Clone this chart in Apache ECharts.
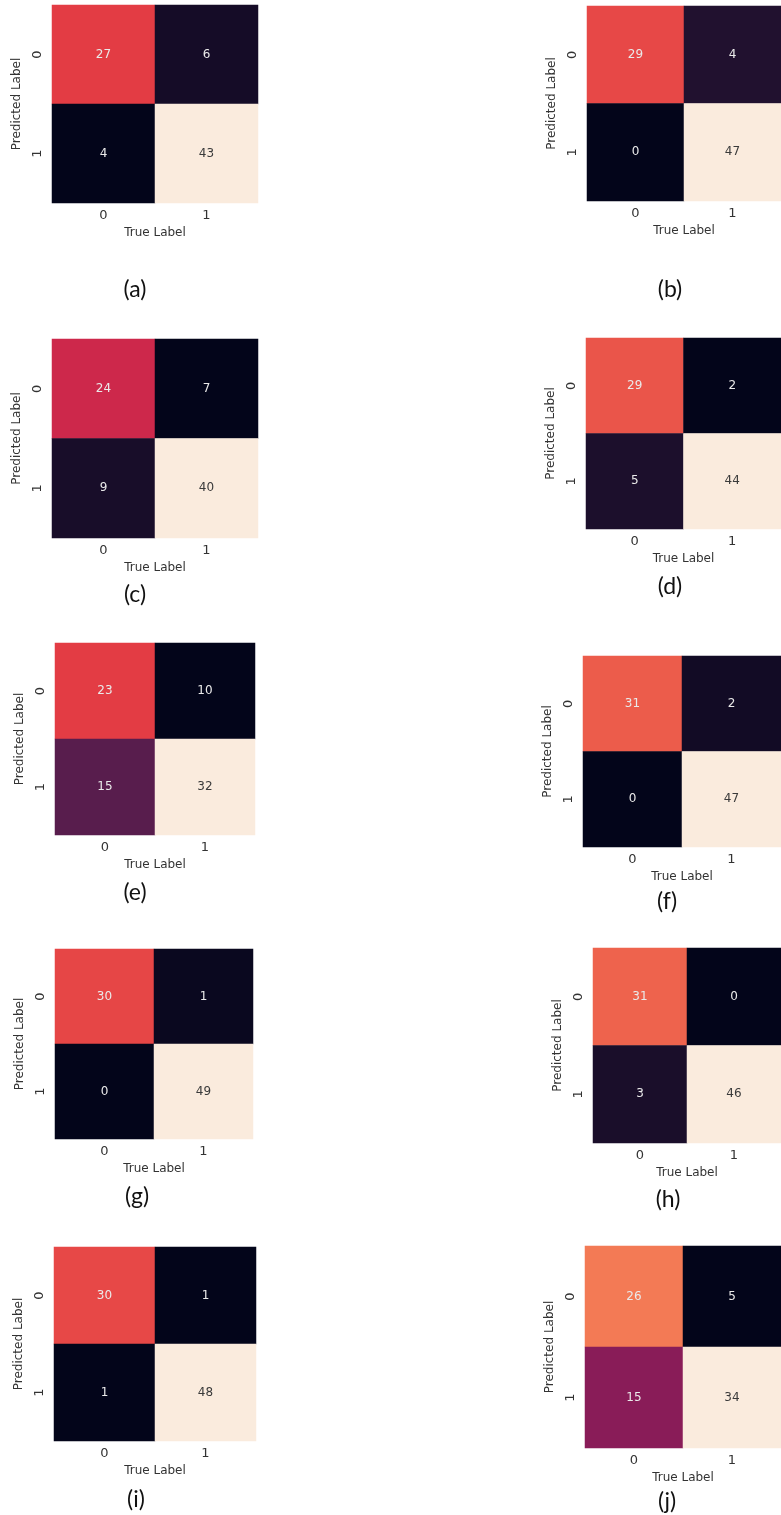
<!DOCTYPE html>
<html>
<head>
<meta charset="utf-8">
<script src="https://cdn.jsdelivr.net/npm/echarts@6/dist/echarts.min.js"></script>
<style>
html, body { margin: 0; padding: 0; background: #fff; }
#chart { width: 781px; height: 1515px; }
</style>
</head>
<body>
<div id="chart"></div>
<script>
// class names on both axes
const classLabels = ['0', '1'];
const captions = ['(a)', '(b)', '(c)', '(d)', '(e)', '(f)', '(g)', '(h)', '(i)', '(j)'];

// confusion matrices: rows = predicted label, columns = true label
const cmA = [[27, 6], [4, 43]];
const cmB = [[29, 4], [0, 47]];
const cmC = [[24, 7], [9, 40]];
const cmD = [[29, 2], [5, 44]];
const cmE = [[23, 10], [15, 32]];
const cmF = [[31, 2], [0, 47]];
const cmG = [[30, 1], [0, 49]];
const cmH = [[31, 0], [3, 46]];
const cmI = [[30, 1], [1, 48]];
const cmJ = [[26, 5], [15, 34]];
const matrices = [cmA, cmB, cmC, cmD, cmE, cmF, cmG, cmH, cmI, cmJ];

// seaborn "rocket" colormap stops
const rocket = ['#03051a', '#35193e', '#701f57', '#ad1759', '#e13342', '#f37651', '#f6b48f', '#faebdd'];

// panel placement on the page
const layout = [
  { left: 52,  top: 5,    w: 206, h: 198, capX: 135, capY: 290 },
  { left: 587, top: 6,    w: 200, h: 195, capX: 670, capY: 290 },
  { left: 52,  top: 339,  w: 206, h: 199, capX: 135, capY: 595 },
  { left: 586, top: 338,  w: 204, h: 191, capX: 670, capY: 587 },
  { left: 55,  top: 643,  w: 200, h: 192, capX: 135, capY: 893 },
  { left: 583, top: 656,  w: 198, h: 191, capX: 667, capY: 902 },
  { left: 55,  top: 949,  w: 198, h: 190, capX: 137, capY: 1197 },
  { left: 593, top: 948,  w: 200, h: 195, capX: 668, capY: 1200 },
  { left: 54,  top: 1247, w: 202, h: 194, capX: 136, capY: 1500 },
  { left: 585, top: 1246, w: 206, h: 202, capX: 667, capY: 1502 }
];

const axisFont = 'DejaVu Sans';
const grids = [], xAxes = [], yAxes = [], visualMaps = [], series = [], graphics = [];

matrices.forEach((m, i) => {
  const p = layout[i];
  const flat = m[0].concat(m[1]);
  const lo = Math.min(...flat), hi = Math.max(...flat);
  const data = [];
  m.forEach((row, r) => {
    row.forEach((v, c) => {
      const t = (v - lo) / (hi - lo);
      data.push({ value: [c, r, v], label: { color: t > 0.8 ? '#3a3a3a' : '#eaeaea' } });
    });
  });

  grids.push({ left: p.left, top: p.top, width: p.w, height: p.h, containLabel: false });
  xAxes.push({
    gridIndex: i, type: 'category', data: classLabels, position: 'bottom',
    axisLine: { show: false },
    axisTick: { alignWithLabel: true, length: 5, lineStyle: { color: '#444' } },
    axisLabel: { fontSize: 13, color: '#333', margin: 6, fontFamily: axisFont },
    splitLine: { show: false },
    name: 'True Label', nameLocation: 'middle', nameGap: 24,
    nameTextStyle: { fontSize: 12, color: '#333', fontFamily: axisFont }
  });
  yAxes.push({
    gridIndex: i, type: 'category', data: classLabels, inverse: true,
    axisLine: { show: false },
    axisTick: { alignWithLabel: true, length: 5, lineStyle: { color: '#444' } },
    axisLabel: { fontSize: 13, color: '#333', margin: 8, rotate: 90, fontFamily: axisFont },
    splitLine: { show: false },
    name: 'Predicted Label', nameLocation: 'middle', nameRotate: 90, nameGap: 29,
    nameTextStyle: { fontSize: 12, color: '#333', fontFamily: axisFont }
  });
  visualMaps.push({ show: false, seriesIndex: i, min: lo, max: hi, inRange: { color: rocket } });
  series.push({
    type: 'heatmap', xAxisIndex: i, yAxisIndex: i, data: data,
    label: { show: true, fontSize: 12, fontFamily: axisFont },
    emphasis: { disabled: true }
  });
  graphics.push({
    type: 'text', x: p.capX, y: p.capY,
    style: { text: captions[i], fill: '#111', font: '23px Lato', textAlign: 'center', textVerticalAlign: 'middle' }
  });
});

const chart = echarts.init(document.getElementById('chart'));
chart.setOption({
  animation: false,
  backgroundColor: '#fff',
  grid: grids,
  xAxis: xAxes,
  yAxis: yAxes,
  visualMap: visualMaps,
  series: series,
  graphic: graphics
});
</script>
</body>
</html>
